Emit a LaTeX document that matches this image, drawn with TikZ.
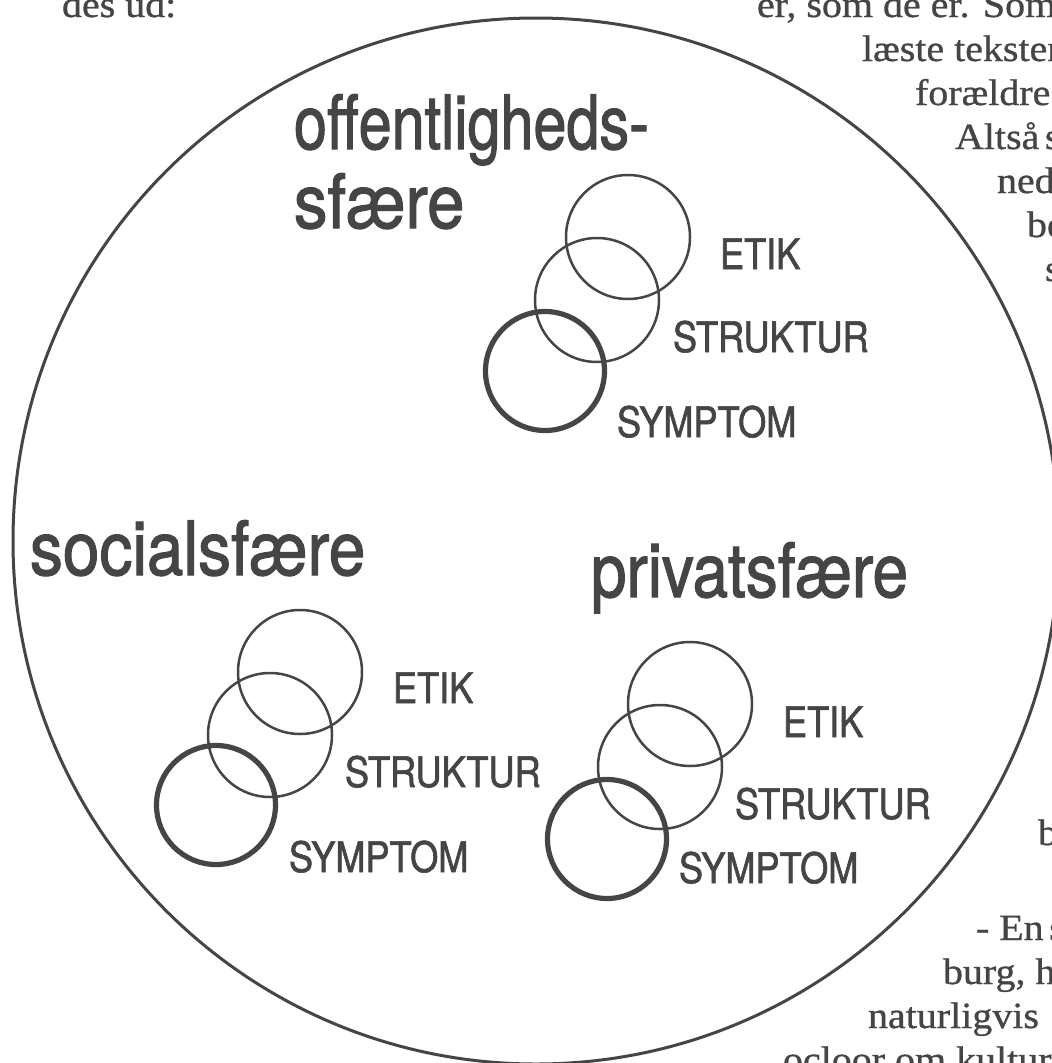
\documentclass[tikz,border=0pt]{standalone}
\usepackage{fontspec}
\newfontfamily\helv[FakeStretch=0.86,FakeBold=1.5]{TeX Gyre Heros}
\newfontfamily\pageserif[FakeStretch=1.08,FakeBold=0.8]{Liberation Serif}
\definecolor{ink}{HTML}{434644}
\begin{document}
\begin{tikzpicture}[x=1pt,y=-1pt,
  every node/.style={inner sep=0pt, outer sep=0pt, text=ink},
  ring/.style={circle, draw=ink, line width=2.5pt, minimum size=124pt},
  thickring/.style={circle, draw=ink, line width=5.2pt, minimum size=119pt},
  lab/.style={anchor=base west, font=\helv\fontsize{42}{42}\selectfont},
  sphere/.style={anchor=base west, font=\helv\fontsize{75}{75}\selectfont},
  pagetext/.style={anchor=base west, font=\pageserif\fontsize{37}{37}\selectfont}]
\fill[white] (0,0) rectangle (1052,1063);
\useasboundingbox (0,0) rectangle (1052,1063);

% outer circle
\node[circle, draw=ink, line width=3pt, minimum size=1046pt] (outer) at (536,541) {};

% page text around the figure
\node[pagetext] (t0) at (62,17) {des ud:};
\node[pagetext] (t1) at (757,17) {er, som de er. Som};
\node[pagetext] (t2) at (862,61) {læste teksten};
\node[pagetext] (t3) at (915,105) {forældre};
\node[pagetext] (t4) at (955,149) {Altså\hspace{0.15em}s};
\node[pagetext] (t5) at (997,193) {ned};
\node[pagetext] (t6) at (1027,237) {be};
\node[pagetext] (t7) at (1045,281) {s};
\node[pagetext] (t8) at (1038,845) {b};
\node[pagetext] (t9) at (976,940) {- En\hspace{0.15em}s};
\node[pagetext] (t10) at (943,984) {burg, h};
\node[pagetext] (t11) at (868,1028) {naturligvis};
\node[pagetext] (t12) at (783,1072) {ocloor om kultur};

% sphere titles
\node[sphere] (offA) at (294,149) {\scalebox{0.92}[1]{offentligheds-}};
\node[sphere] (offB) at (294,228) {\scalebox{1.04}[1]{sfære}};
\node[sphere] (soc) at (30,575) {\scalebox{1.02}[1]{socialsfære}};
\node[sphere] (priv) at (591,597) {\scalebox{0.99}[1]{privatsfære}};

% public sphere group
\node[ring] (pE) at (628,237) {};
\node[ring] (pS) at (597,300) {};
\node[thickring] (pY) at (545,371) {};
\node[lab] (pEl) at (720,269) {ETIK};
\node[lab] (pSl) at (673,352) {STRUKTUR};
\node[lab] (pYl) at (617,437) {SYMPTOM};

% social sphere group
\node[ring] (sE) at (300,672) {};
\node[ring] (sS) at (270,735) {};
\node[thickring] (sY) at (216,805) {};
\node[lab] (sEl) at (393,703) {ETIK};
\node[lab] (sSl) at (345,787) {STRUKTUR};
\node[lab] (sYl) at (289,872) {SYMPTOM};

% private sphere group
\node[ring] (vE) at (690,704) {};
\node[ring] (vS) at (660,767) {};
\node[thickring] (vY) at (607,839) {};
\node[lab] (vEl) at (783,737) {ETIK};
\node[lab] (vSl) at (735,819) {STRUKTUR};
\node[lab] (vYl) at (679,883) {SYMPTOM};
\end{tikzpicture}
\end{document}
